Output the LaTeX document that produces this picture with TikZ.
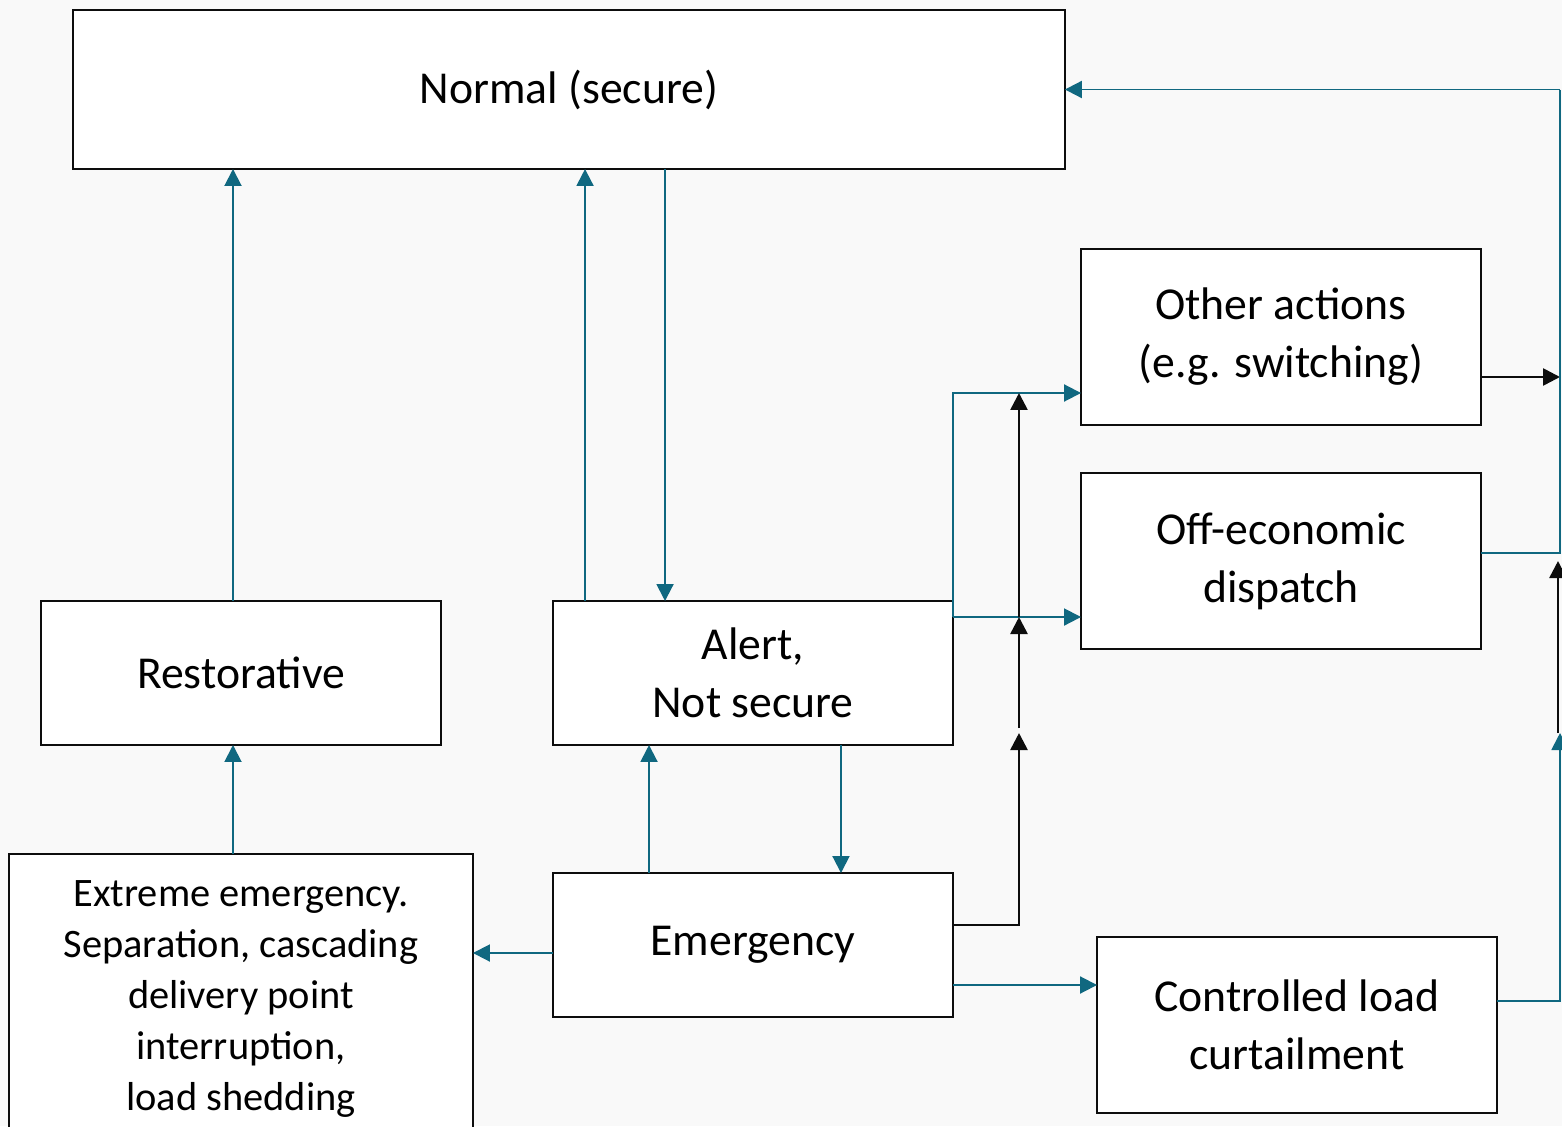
\documentclass[tikz,border=0pt]{standalone}
\usepackage{fontspec}
\setmainfont{Carlito}
\usetikzlibrary{arrows.meta,calc}
\definecolor{SecInk}{gray}{0.05}
\definecolor{SecTeal}{RGB}{16,104,128}
\definecolor{SecPaper}{gray}{0.975}
\tikzset{
    sec/diagram/.style={
        font=\fontsize{26}{33}\selectfont,
        line cap=butt,
        line join=miter,
        every node/.style={inner sep=2pt, outer sep=0pt}
    },
    sec/box/.style={
        draw=SecInk, fill=white, line width=1.3pt,
        align=center, minimum width=8cm, minimum height=3.52cm
    },
    sec/flow/.style={
        draw=SecTeal, line width=1.1pt,
        -{Triangle[length=3.4mm, width=3.4mm]}
    },
    sec/link/.style={draw=SecTeal, line width=1.1pt},
    sec/ctrl/.style={
        draw=SecInk, line width=1.5pt,
        -{Triangle[length=3.4mm, width=3.4mm]}
    }
}

\begin{document}
\begin{tikzpicture}[sec/diagram, x=0.02cm, y=-0.02cm]
    \useasboundingbox (0,0) rectangle (1562,1126);
    \fill[SecPaper] (0,0) rectangle (1562,1126);
    % states
    \node[sec/box, minimum width=19.84cm, minimum height=3.18cm] (normal) at (569,89.5) {Normal (secure)};
    \node[sec/box, minimum height=2.88cm] (restor) at (241,673) {Restorative};
    \node[sec/box, minimum height=2.88cm] (alert) at (753,673) {Alert,\\Not secure};
    \node[sec/box, minimum height=2.88cm] (emerg) at (753,945) {Emergency};
    \node[sec/box, minimum width=9.28cm, minimum height=5.8cm,
          font=\fontsize{23}{29}\selectfont] (extreme) at (241,999)
        {Extreme emergency.\\Separation, cascading\\delivery point\\interruption,\\load shedding};
    % actions
    \node[sec/box] (other) at (1281,337) {Other actions\\(e.g. switching)};
    \node[sec/box] (offeco) at (1281,561) {Off-economic\\dispatch};
    \node[sec/box] (curtail) at (1297,1025) {Controlled load\\curtailment};
    % helper points
    \coordinate (aE) at ([yshift=-0.32cm]alert.north east);
    \coordinate (oIn) at ([yshift=0.64cm]other.south west);
    \coordinate (bus) at (1019,733);
    \coordinate (railtop) at (1560,89.5);
    \coordinate (rail) at (1560,733);
    % transitions between states
    \draw[sec/flow] ([xshift=-0.16cm]restor.north) -- ([xshift=-0.16cm]restor.north |- normal.south);
    \draw[sec/flow] ([xshift=0.64cm]alert.north west) -- ([xshift=0.64cm]alert.north west |- normal.south);
    \draw[sec/flow] ([xshift=2.24cm]alert.north west |- normal.south) -- ([xshift=2.24cm]alert.north west);
    \draw[sec/flow] ([xshift=1.92cm]emerg.north west) -- ([xshift=1.92cm]alert.south west);
    \draw[sec/flow] ([xshift=5.76cm]alert.south west) -- ([xshift=5.76cm]emerg.north west);
    \draw[sec/flow] ([xshift=-0.16cm]extreme.north) -- ([xshift=-0.16cm]restor.south);
    \draw[sec/flow] ([yshift=-0.16cm]emerg.west) -- ([yshift=-0.16cm]emerg.west -| extreme.east);
    \draw[sec/flow] ([yshift=-0.8cm]emerg.east) -- ([yshift=-0.8cm]emerg.east -| curtail.west);
    % alert to actions
    \draw[sec/flow] (aE) -- (aE -| offeco.west);
    \draw[sec/flow] (aE) |- (oIn);
    % emergency control bus
    \draw[sec/ctrl] ([yshift=0.4cm]emerg.east) -| (bus);
    \draw[sec/ctrl] ([yshift=0.1cm]bus) -- (bus |- aE);
    \draw[sec/ctrl] (bus |- aE) -- (bus |- oIn);
    % actions back to normal
    \draw[sec/ctrl] ([yshift=-0.8cm]other.east) -- ([yshift=-0.8cm]other.east -| railtop);
    \draw[sec/link] ([yshift=0.16cm]offeco.east) -| (railtop);
    \draw[sec/flow] (railtop) -- (normal.east);
    \draw[sec/flow] ([yshift=0.48cm]curtail.east) -| (rail);
    \draw[sec/ctrl] ([xshift=-0.04cm]rail) -- ++(0,-172);
\end{tikzpicture}
\end{document}
